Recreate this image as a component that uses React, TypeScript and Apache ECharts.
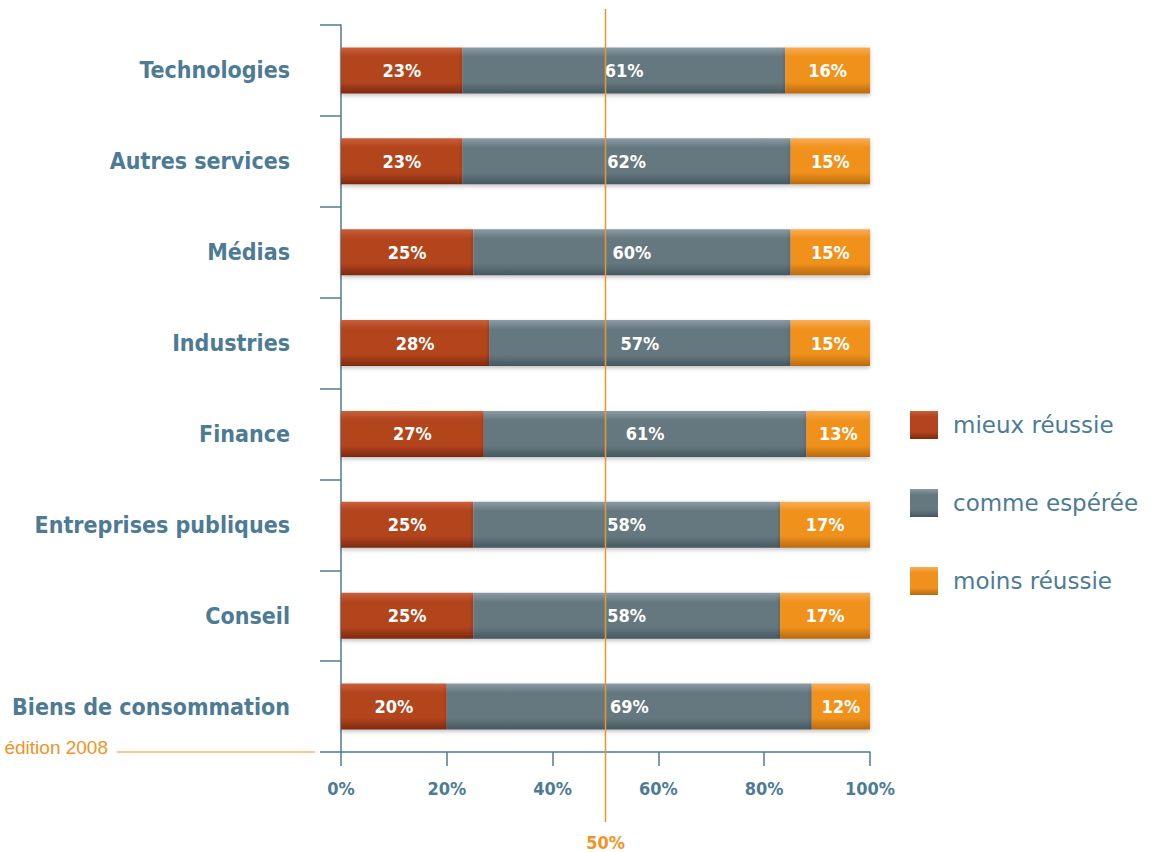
import React, { useEffect, useRef } from "react";
import * as echarts from "echarts";

const categories = [
  "Technologies",
  "Autres services",
  "Médias",
  "Industries",
  "Finance",
  "Entreprises publiques",
  "Conseil",
  "Biens de consommation",
];
const mieuxReussie = [23, 23, 25, 28, 27, 25, 25, 20];
const commeEsperee = [61, 62, 60, 57, 61, 58, 58, 69];
const moinsReussie = [16, 15, 15, 15, 13, 17, 17, 12];
const seriesNames = ["mieux réussie", "comme espérée", "moins réussie"];
const xTicks = { min: 0, max: 100, interval: 20 };
const refValue = 50;
const editionLabel = "édition 2008";

const BLUE = "#4d7b95";
const ORANGE = "#f39325";
const COND = "'Liberation Sans Narrow', 'DejaVu Sans Condensed', 'Arial Narrow', sans-serif";
const REG = "'DejaVu Sans', 'Liberation Sans', Arial, sans-serif";

const grad = (top: string, mid: string, bottom: string) =>
  new echarts.graphic.LinearGradient(0, 0, 0, 1, [
    { offset: 0, color: top },
    { offset: 0.2, color: mid },
    { offset: 0.75, color: mid },
    { offset: 1, color: bottom },
  ]);

export default function App() {
  const ref = useRef<HTMLDivElement>(null);
  useEffect(() => {
    document.body.style.margin = "0";
    if (!ref.current) return;
    const chart = echarts.init(ref.current, undefined, { renderer: "svg" });
    const colors = [
      grad("#c8603a", "#b3441f", "#7c2a0f"),
      grad("#8b9ba6", "#66787f", "#465760"),
      grad("#f8ad55", "#f0911d", "#b86a0f"),
    ];
    const dataSets = [mieuxReussie, commeEsperee, moinsReussie];
    const series = dataSets.map((d, i) => ({
      name: seriesNames[i],
      type: "bar",
      stack: "total",
      barWidth: 46,
      data: d,
      itemStyle: {
        color: colors[i],
        shadowBlur: 4,
        shadowColor: "rgba(0,0,0,0.25)",
        shadowOffsetY: 2,
      },
      label: {
        show: true,
        position: "inside",
        formatter: "{c}%",
        color: "#ffffff",
        fontFamily: COND,
        fontWeight: "bold",
        fontSize: 18,
      },
    }));
    chart.setOption({
      animation: false,
      backgroundColor: "#ffffff",
      grid: {
        left: 341,
        right: 301,
        top: 25,
        bottom: 100,
        containLabel: false,
        outerBoundsMode: "none",
      },
      legend: {
        orient: "vertical",
        left: 905,
        top: 406,
        itemWidth: 28,
        itemHeight: 28,
        itemGap: 50,
        icon: "rect",
        data: seriesNames,
        textStyle: {
          color: BLUE,
          fontFamily: REG,
          fontSize: 23,
          padding: [0, 0, 0, 10],
        },
      },
      xAxis: {
        type: "value",
        min: xTicks.min,
        max: xTicks.max,
        interval: xTicks.interval,
        axisLine: { show: true, lineStyle: { color: BLUE, width: 1.5 } },
        axisTick: { show: true, length: 14, lineStyle: { color: BLUE, width: 1.5 } },
        splitLine: { show: false },
        axisLabel: {
          formatter: "{value}%",
          color: BLUE,
          fontFamily: COND,
          fontWeight: "bold",
          fontSize: 18,
          margin: 27,
        },
      },
      yAxis: {
        type: "category",
        inverse: true,
        data: categories,
        axisLine: { show: true, lineStyle: { color: BLUE, width: 1.5 } },
        axisTick: { show: true, length: 21, lineStyle: { color: BLUE, width: 1.5 } },
        axisLabel: {
          color: BLUE,
          fontFamily: COND,
          fontWeight: "bold",
          fontSize: 23,
          margin: 51,
        },
      },
      series,
    });
    const x = chart.convertToPixel({ xAxisIndex: 0 }, refValue) as number;
    const x0 = chart.convertToPixel({ xAxisIndex: 0 }, xTicks.min) as number;
    const axisY = 752;
    chart.setOption({
      graphic: [
        {
          type: "line",
          shape: { x1: x, y1: 9, x2: x, y2: 822 },
          style: { stroke: ORANGE, lineWidth: 1.5 },
          z: 10,
        },
        {
          type: "text",
          x: x,
          y: 842,
          style: {
            text: refValue + "%",
            fill: ORANGE,
            font: `bold 18px ${COND}`,
            textAlign: "center",
            textVerticalAlign: "middle",
          },
        },
        {
          type: "line",
          shape: { x1: 117, y1: axisY, x2: x0 - 26, y2: axisY },
          style: { stroke: ORANGE, lineWidth: 1.2 },
        },
        {
          type: "text",
          x: 108,
          y: axisY - 5,
          style: {
            text: editionLabel,
            fill: ORANGE,
            font: `19px 'Liberation Sans', Arial, sans-serif`,
            textAlign: "right",
            textVerticalAlign: "middle",
          },
        },
      ],
    });
    return () => chart.dispose();
  }, []);
  return <div ref={ref} style={{ width: 1171, height: 852 }} />;
}
